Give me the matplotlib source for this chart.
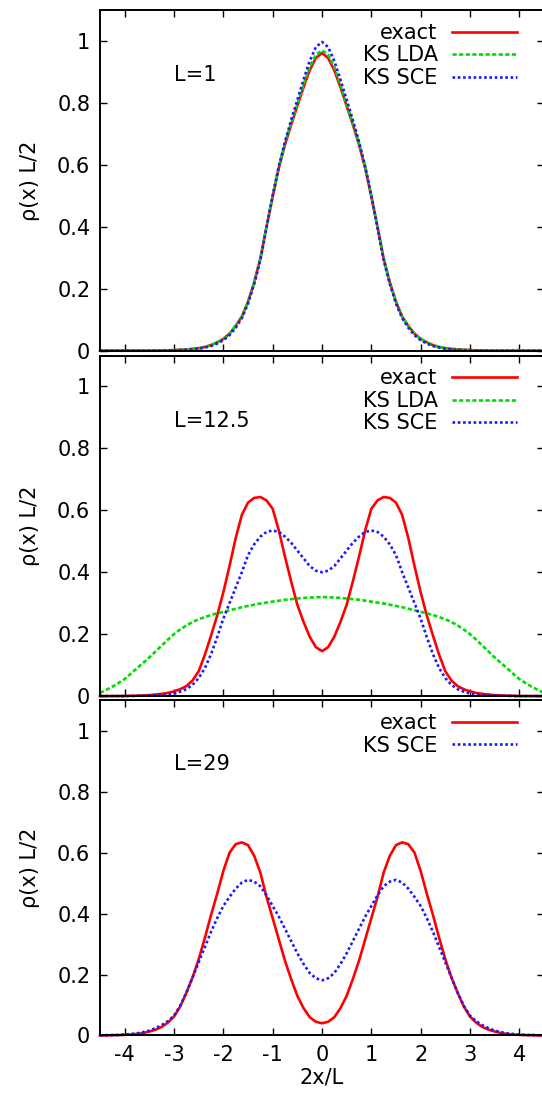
import numpy as np
import matplotlib
matplotlib.use("Agg")
import matplotlib.pyplot as plt

plt.rcParams['font.family'] = ['DejaVu Sans']
plt.rcParams['axes.unicode_minus'] = False

x = np.linspace(-4.5, 4.5, 73)

# L = 1
exact_1 = [0, 0, 0, 0, 0, 0, 0, 0, 0, 0, 0.001, 0.001, 0.002, 0.003, 0.004, 0.006, 0.008, 0.012,
           0.018, 0.027, 0.038, 0.055, 0.08, 0.11, 0.158, 0.22, 0.297, 0.40, 0.497, 0.59, 0.665,
           0.73, 0.79, 0.85, 0.905, 0.945, 0.961,
           0.945, 0.905, 0.85, 0.79, 0.73, 0.665, 0.59, 0.497, 0.40, 0.297, 0.22, 0.158, 0.11,
           0.08, 0.055, 0.038, 0.027, 0.018, 0.012, 0.008, 0.006, 0.004, 0.003, 0.002, 0.001,
           0.001, 0, 0, 0, 0, 0, 0, 0, 0, 0, 0]
lda_1 = [0, 0, 0, 0, 0, 0, 0, 0, 0, 0, 0.001, 0.001, 0.002, 0.003, 0.004, 0.006, 0.008, 0.012,
         0.018, 0.027, 0.038, 0.055, 0.08, 0.11, 0.158, 0.22, 0.297, 0.40, 0.50, 0.595, 0.67,
         0.735, 0.795, 0.858, 0.915, 0.955, 0.97,
         0.955, 0.915, 0.858, 0.795, 0.735, 0.67, 0.595, 0.50, 0.40, 0.297, 0.22, 0.158, 0.11,
         0.08, 0.055, 0.038, 0.027, 0.018, 0.012, 0.008, 0.006, 0.004, 0.003, 0.002, 0.001,
         0.001, 0, 0, 0, 0, 0, 0, 0, 0, 0, 0]
sce_1 = [0, 0, 0, 0, 0, 0, 0, 0, 0, 0, 0, 0.001, 0.001, 0.002, 0.003, 0.004, 0.006, 0.01,
         0.015, 0.023, 0.034, 0.05, 0.074, 0.105, 0.152, 0.215, 0.292, 0.397, 0.50, 0.595,
         0.675, 0.745, 0.81, 0.875, 0.935, 0.98, 0.997,
         0.98, 0.935, 0.875, 0.81, 0.745, 0.675, 0.595, 0.50, 0.397, 0.292, 0.215, 0.152,
         0.105, 0.074, 0.05, 0.034, 0.023, 0.015, 0.01, 0.006, 0.004, 0.003, 0.002, 0.001,
         0.001, 0, 0, 0, 0, 0, 0, 0, 0, 0, 0, 0]

# L = 12.5
exact_2 = [0, 0, 0, 0, 0, 0.001, 0.001, 0.002, 0.003, 0.005, 0.007, 0.01, 0.015, 0.022, 0.032,
           0.05, 0.08, 0.133, 0.195, 0.26, 0.335, 0.42, 0.51, 0.585, 0.625, 0.64, 0.643, 0.632,
           0.605, 0.535, 0.45, 0.37, 0.295, 0.24, 0.192, 0.158, 0.145,
           0.158, 0.192, 0.24, 0.295, 0.37, 0.45, 0.535, 0.605, 0.632, 0.643, 0.64, 0.625,
           0.585, 0.51, 0.42, 0.335, 0.26, 0.195, 0.133, 0.08, 0.05, 0.032, 0.022, 0.015, 0.01,
           0.007, 0.005, 0.003, 0.002, 0.001, 0.001, 0, 0, 0, 0, 0]
lda_2 = [0.01, 0.02, 0.03, 0.042, 0.055, 0.072, 0.09, 0.107, 0.125, 0.144, 0.163, 0.182, 0.2,
         0.215, 0.228, 0.239, 0.248, 0.255, 0.262, 0.267, 0.272, 0.277, 0.282, 0.287, 0.291,
         0.295, 0.299, 0.302, 0.305, 0.308, 0.311, 0.313, 0.315, 0.317, 0.318, 0.319, 0.32,
         0.319, 0.318, 0.317, 0.315, 0.313, 0.311, 0.308, 0.305, 0.302, 0.299, 0.295, 0.291,
         0.287, 0.282, 0.277, 0.272, 0.267, 0.262, 0.255, 0.248, 0.239, 0.228, 0.215, 0.2,
         0.182, 0.163, 0.144, 0.125, 0.107, 0.09, 0.072, 0.055, 0.042, 0.03, 0.02, 0.01]
sce_2 = [0, 0, 0, 0, 0, 0, 0.001, 0.001, 0.002, 0.002, 0.004, 0.005, 0.008, 0.014, 0.022,
         0.036, 0.058, 0.09, 0.135, 0.19, 0.25, 0.30, 0.35, 0.40, 0.455, 0.49, 0.515, 0.53,
         0.535, 0.53, 0.515, 0.495, 0.47, 0.445, 0.42, 0.405, 0.40,
         0.405, 0.42, 0.445, 0.47, 0.495, 0.515, 0.53, 0.535, 0.53, 0.515, 0.49, 0.455, 0.40,
         0.35, 0.30, 0.25, 0.19, 0.135, 0.09, 0.058, 0.036, 0.022, 0.014, 0.008, 0.005, 0.004,
         0.002, 0.002, 0.001, 0.001, 0, 0, 0, 0, 0, 0]

# L = 29
exact_3 = [0, 0, 0.001, 0.001, 0.002, 0.003, 0.005, 0.008, 0.013, 0.019, 0.028, 0.042, 0.062,
           0.095, 0.14, 0.19, 0.25, 0.32, 0.395, 0.465, 0.54, 0.6, 0.628, 0.634, 0.625, 0.59,
           0.535, 0.455, 0.385, 0.315, 0.245, 0.185, 0.13, 0.09, 0.06, 0.045, 0.04,
           0.045, 0.06, 0.09, 0.13, 0.185, 0.245, 0.315, 0.385, 0.455, 0.535, 0.59, 0.625,
           0.634, 0.628, 0.6, 0.54, 0.465, 0.395, 0.32, 0.25, 0.19, 0.14, 0.095, 0.062, 0.042,
           0.028, 0.019, 0.013, 0.008, 0.005, 0.003, 0.002, 0.001, 0.001, 0, 0]
sce_3 = [0, 0.001, 0.001, 0.002, 0.003, 0.005, 0.007, 0.011, 0.016, 0.024, 0.034, 0.047, 0.065,
         0.097, 0.14, 0.19, 0.24, 0.29, 0.34, 0.385, 0.425, 0.455, 0.482, 0.502, 0.511, 0.505,
         0.49, 0.46, 0.425, 0.39, 0.35, 0.31, 0.27, 0.235, 0.205, 0.188, 0.181,
         0.188, 0.205, 0.235, 0.27, 0.31, 0.35, 0.39, 0.425, 0.46, 0.49, 0.505, 0.511, 0.502,
         0.482, 0.455, 0.425, 0.385, 0.34, 0.29, 0.24, 0.19, 0.14, 0.097, 0.065, 0.047, 0.034,
         0.024, 0.016, 0.011, 0.007, 0.005, 0.003, 0.002, 0.001, 0.001, 0]

panel_labels = ['L=1', 'L=12.5', 'L=29']
xticks = [-4, -3, -2, -1, 0, 1, 2, 3, 4]
yticks = [0, 0.2, 0.4, 0.6, 0.8, 1.0]
ytick_labels = ['0', '0.2', '0.4', '0.6', '0.8', '1']

STYLE = {
    'exact': dict(color='#ff0000', lw=1.9, ls='-'),
    'KS LDA': dict(color='#00dd00', lw=1.9, ls=(0, (1.6, 0.9))),
    'KS SCE': dict(color='#1a1aff', lw=1.9, ls=(0, (1.0, 1.0))),
}

panels = [
    [('exact', exact_1), ('KS LDA', lda_1), ('KS SCE', sce_1)],
    [('exact', exact_2), ('KS LDA', lda_2), ('KS SCE', sce_2)],
    [('exact', exact_3), ('KS SCE', sce_3)],
]

# axes boxes in figure fractions (left, bottom, width, height)
boxes = [(0.1845, 0.6803, 0.8192, 0.3106),
         (0.1845, 0.3655, 0.8192, 0.3104),
         (0.1845, 0.0561, 0.8192, 0.3054)]

FS = 15

fig = plt.figure(figsize=(5.42, 10.97), dpi=100)

for i, (box, curves, lab) in enumerate(zip(boxes, panels, panel_labels)):
    ax = fig.add_axes(box)
    for name, y in curves:
        ax.plot(x, y, label=name, clip_on=False, **STYLE[name])
    ax.set_xlim(-4.5, 4.5)
    ax.set_ylim(0, 1.1)
    ax.set_xticks(xticks)
    ax.set_yticks(yticks)
    ax.set_yticklabels(ytick_labels)
    ax.tick_params(direction='in', length=4.7, width=1.0, top=True, right=True,
                   pad=7, labelsize=FS, colors='black')
    for sp in ax.spines.values():
        sp.set_linewidth(1.4)
        sp.set_zorder(3)
    if i < 2:
        ax.tick_params(labelbottom=False)
    else:
        ax.set_xlabel('2x/L', fontsize=FS, labelpad=2)
    ax.set_ylabel('ρ(x) L/2', fontsize=FS)
    ax.yaxis.set_label_coords(-0.135, 0.5)
    ax.text(-3.0, 0.89, lab, fontsize=FS, ha='left', va='center')
    ax.legend(loc='upper right', bbox_to_anchor=(0.9385, 0.962), frameon=False,
              markerfirst=False, handlelength=3.1, handletextpad=0.7,
              labelspacing=0.12, borderpad=0, borderaxespad=0, fontsize=FS)

fig.savefig('out.png', dpi=100)
